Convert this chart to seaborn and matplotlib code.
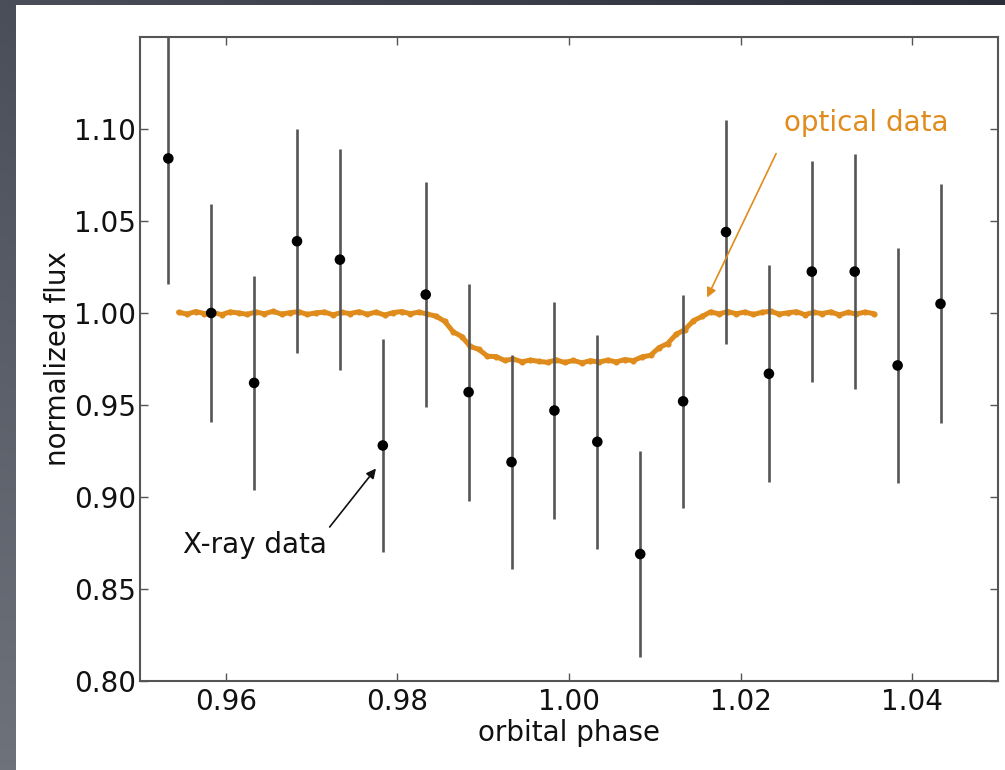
import numpy as np
import pandas as pd
import matplotlib
matplotlib.use("Agg")
import matplotlib.pyplot as plt
import seaborn as sns
from matplotlib.patches import Rectangle

# Binned X-ray light curve
xray_phase = [0.9533, 0.9583, 0.9633, 0.9683, 0.9733, 0.9783, 0.9833, 0.9883,
              0.9933, 0.9983, 1.0033, 1.0083, 1.0133, 1.0183, 1.0233, 1.0283,
              1.0333, 1.0383, 1.0433]
xray_flux = [1.084, 1.000, 0.962, 1.039, 1.029, 0.928, 1.010, 0.957,
             0.919, 0.947, 0.930, 0.869, 0.952, 1.044, 0.967, 1.0225,
             1.0225, 0.9715, 1.005]
xray_err = [0.068, 0.0595, 0.058, 0.061, 0.060, 0.058, 0.061, 0.059,
            0.058, 0.059, 0.058, 0.056, 0.058, 0.061, 0.059, 0.060,
            0.064, 0.064, 0.065]

# Optical transit light curve, sampled every 0.001 in phase from 0.9545
optical_start = 0.9545
optical_step = 0.001
optical_flux = [
    1.0004, 0.9994, 1.0008, 0.9997, 1.0003, 0.9991, 1.0006, 1.0000, 0.9993, 1.0005,
    0.9996, 1.0009, 0.9994, 1.0002, 1.0007, 0.9992, 1.0001, 1.0005, 0.9990, 1.0003,
    0.9997, 1.0007, 0.9993, 1.0005, 0.9989, 1.0002, 1.0008, 0.9996, 1.0005, 0.9994,
    0.9983, 0.9955, 0.9898, 0.9872, 0.9818, 0.9802, 0.9765, 0.9763, 0.9742, 0.9750,
    0.9735, 0.9744, 0.9737, 0.9732, 0.9745, 0.9731, 0.9742, 0.9729, 0.9741, 0.9733,
    0.9744, 0.9734, 0.9747, 0.9741, 0.9761, 0.9770, 0.9812, 0.9834, 0.9885, 0.9909,
    0.9958, 0.9981, 1.0006, 0.9995, 1.0008, 0.9996, 1.0005, 0.9992, 1.0004, 1.0009,
    0.9994, 1.0001, 1.0007, 0.9991, 1.0004, 0.9997, 1.0006, 0.9990, 1.0003, 0.9995,
    1.0005, 0.9997,
]
optical_phase = [round(optical_start + optical_step * i, 4) for i in range(len(optical_flux))]

x_ticks = [0.96, 0.98, 1.00, 1.02, 1.04]
y_ticks = [0.80, 0.85, 0.90, 0.95, 1.00, 1.05, 1.10]

ORANGE = "#DF8C1C"
SPINE = "#555555"
FS = 20

xray = pd.DataFrame({"phase": xray_phase, "flux": xray_flux, "err": xray_err})
optical = pd.DataFrame({"phase": optical_phase, "flux": optical_flux})

sns.set_theme(style="ticks")
plt.rcParams["font.family"] = ["DejaVu Sans"]

W, H = 1005, 770
fig = plt.figure(figsize=(W / 100, H / 100), dpi=100)

# slate backdrop with white panel
bg = fig.add_axes([0, 0, 1, 1], zorder=-10)
yy, xx = np.mgrid[0:1:200j, 0:1:200j]
top_left = np.array([0x4a, 0x4e, 0x59]) / 255
bottom_left = np.array([0x6e, 0x72, 0x7b]) / 255
top_right = np.array([0x2a, 0x2e, 0x39]) / 255
grad = (top_left[None, None, :] * (1 - yy[..., None]) * (1 - xx[..., None])
        + top_right[None, None, :] * (1 - yy[..., None]) * xx[..., None]
        + bottom_left[None, None, :] * yy[..., None])
bg.imshow(grad, extent=[0, 1, 0, 1], aspect="auto", origin="upper")
bg.add_patch(Rectangle((16 / W, 0), 1 - 16 / W, (H - 5) / H, facecolor="white",
                       edgecolor="none", transform=bg.transAxes))
bg.set_xlim(0, 1)
bg.set_ylim(0, 1)
bg.axis("off")

ax = fig.add_axes([140 / W, (H - 681) / H, (998 - 140) / W, (681 - 37) / H])
ax.set_facecolor("white")

# optical curve: fuzzy band of dots
sns.lineplot(data=optical, x="phase", y="flux", ax=ax, color=ORANGE, lw=3.6,
             marker="o", markersize=4.4, markeredgewidth=0, zorder=2)

# X-ray points with error bars
ax.errorbar(xray["phase"], xray["flux"], yerr=xray["err"], fmt="none",
            ecolor="#555555", elinewidth=1.9, capsize=0, zorder=3)
sns.scatterplot(data=xray, x="phase", y="flux", ax=ax, color="black", s=58,
                edgecolor="none", zorder=4)

ax.set_xlim(0.95, 1.05)
ax.set_ylim(0.80, 1.15)
ax.set_xticks(x_ticks)
ax.set_yticks(y_ticks)
ax.set_xticklabels([f"{v:.2f}" for v in x_ticks])
ax.set_yticklabels([f"{v:.2f}" for v in y_ticks])

for s in ax.spines.values():
    s.set_visible(True)
    s.set_color(SPINE)
    s.set_linewidth(1.5)
ax.tick_params(axis="both", which="major", direction="in", length=6, width=1.0,
               color=SPINE, labelsize=FS, labelcolor="#111111",
               top=True, right=True)
ax.tick_params(axis="x", pad=5)
ax.tick_params(axis="y", pad=3)

ax.set_xlabel("orbital phase", fontsize=FS, color="#111111", labelpad=2)
ax.set_ylabel("normalized flux", fontsize=FS, color="#111111", labelpad=1)

ax.annotate("optical data", xy=(1.0161, 1.0084), xytext=(1.0251, 1.1034),
            color=ORANGE, fontsize=FS, ha="left", va="center",
            arrowprops=dict(arrowstyle="-|>", color=ORANGE, lw=1.2,
                            mutation_scale=14, shrinkA=0, shrinkB=0,
                            relpos=(-0.05, -0.6)))
ax.annotate("X-ray data", xy=(0.9775, 0.9155), xytext=(0.9550, 0.8738),
            color="#111111", fontsize=FS, ha="left", va="center",
            arrowprops=dict(arrowstyle="-|>", color="#111111", lw=1.2,
                            mutation_scale=14, shrinkA=0, shrinkB=0,
                            relpos=(1.02, 1.15)))

fig.savefig("out.png", dpi=100)
